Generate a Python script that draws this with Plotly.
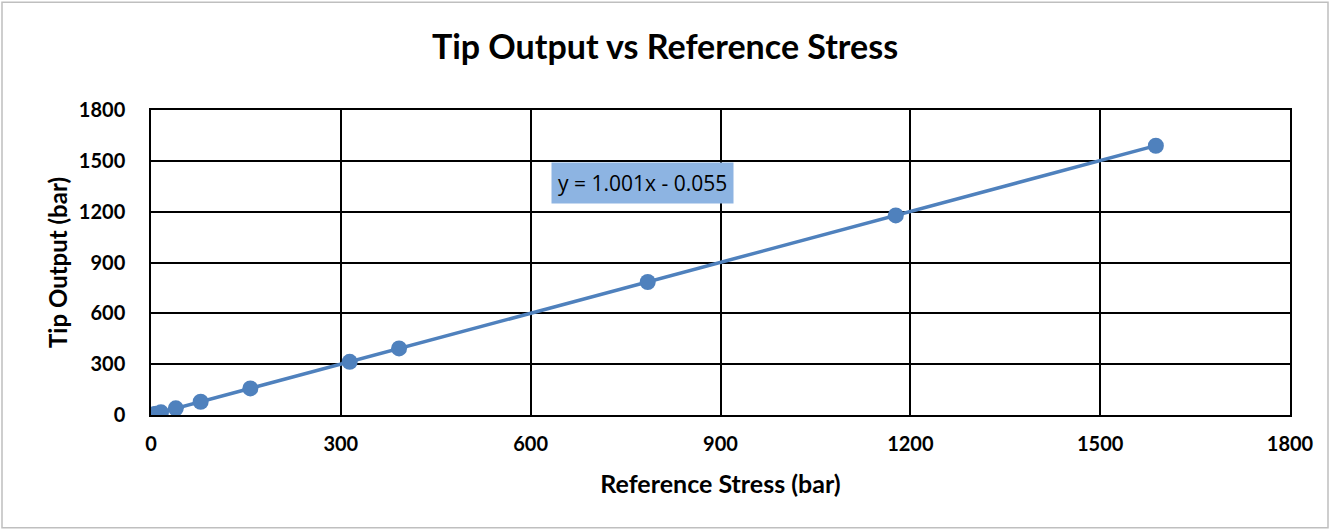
import plotly.graph_objects as go

# Calibration readings (bar)
reference_stress = [0, 3.9, 7.9, 15.7, 39.2, 78.5, 157, 314, 392, 785, 1177, 1588]
tip_output = [0, 3.9, 7.8, 15.8, 39.3, 78.4, 157, 314, 393, 785, 1178, 1589]

# Linear trendline coefficients
slope = 1.001
intercept = -0.055
trend_label = "y = 1.001x - 0.055"

tick_values = [0, 300, 600, 900, 1200, 1500, 1800]

blue = "#4F81BD"
font_family = "Lato, 'Open Sans', sans-serif"

x_lo, x_hi = min(reference_stress), max(reference_stress)

fig = go.Figure()
fig.add_trace(go.Scatter(
    x=[x_lo, x_hi],
    y=[slope * x_lo + intercept, slope * x_hi + intercept],
    mode="lines",
    line=dict(color=blue, width=3.5),
    hoverinfo="skip",
    showlegend=False,
))
fig.add_trace(go.Scatter(
    x=reference_stress,
    y=tip_output,
    mode="markers",
    marker=dict(color=blue, size=16),
    showlegend=False,
))

axis_common = dict(
    range=[0, 1800],
    tickvals=tick_values,
    showgrid=True,
    gridcolor="black",
    gridwidth=1.5,
    zeroline=False,
    showline=True,
    linecolor="black",
    linewidth=1.5,
    mirror=True,
    ticks="",
    tickfont=dict(family=font_family, size=20, color="black", weight="bold"),
)

fig.update_layout(
    width=1330,
    height=531,
    margin=dict(l=151, r=40, t=110, b=116),
    paper_bgcolor="white",
    plot_bgcolor="white",
    title=dict(
        text="<b>Tip Output vs Reference Stress</b>",
        x=0.5, xanchor="center",
        y=1 - 47 / 531, yanchor="middle",
        font=dict(family=font_family, size=34, color="black"),
    ),
    xaxis=dict(
        **axis_common,
        ticklabelstandoff=10,
        title=dict(text="<b>Reference Stress (bar)</b>",
                   font=dict(family=font_family, size=25, color="black"),
                   standoff=22),
    ),
    yaxis=dict(
        **axis_common,
        ticklabelstandoff=20,
        title=dict(text="<b>Tip Output (bar)</b>",
                   font=dict(family=font_family, size=24, color="black"),
                   standoff=4),
    ),
    annotations=[dict(
        x=777, y=1367, xref="x", yref="y",
        text=trend_label,
        showarrow=False,
        bgcolor="#8DB4E2",
        borderpad=6,
        font=dict(family="'Open Sans', sans-serif", size=21, color="black"),
    )],
    shapes=[dict(
        type="rect", xref="paper", yref="paper",
        x0=-149 / 1139, x1=1 + 38 / 1139,
        y0=-113 / 305.5, y1=1 + 108 / 305.5,
        line=dict(color="#BFBFBF", width=1.5),
        fillcolor="rgba(0,0,0,0)",
        layer="below",
    )],
)

fig.write_html("out.html")
